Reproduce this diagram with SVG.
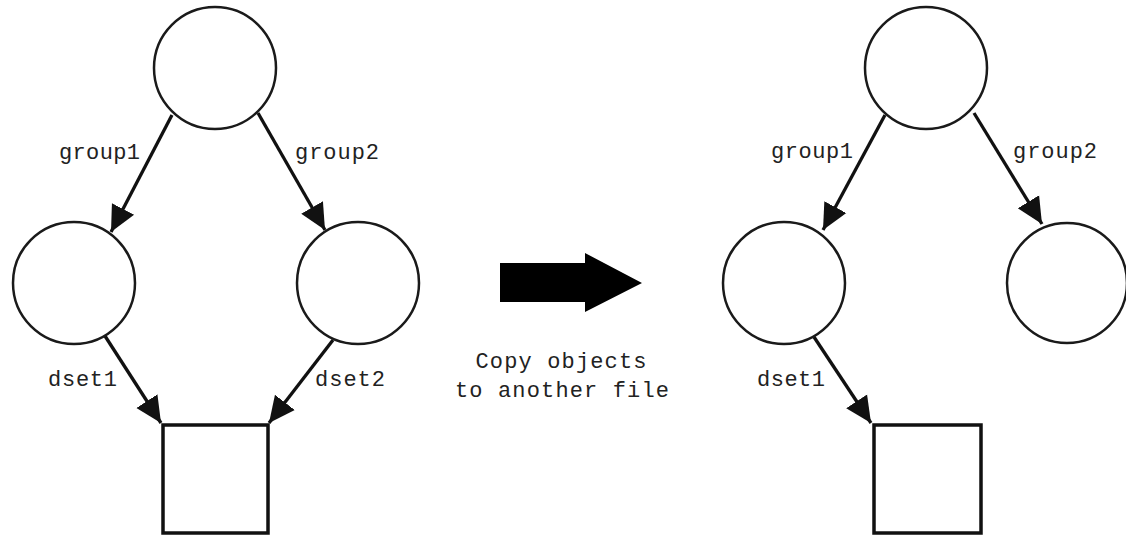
<svg xmlns="http://www.w3.org/2000/svg" width="1126" height="537" viewBox="0 0 1126 537">
<style>
.n{fill:#fff;stroke:#1a1a1a;stroke-width:2.5}
.sq{fill:#fff;stroke:#111;stroke-width:3.5}
.e{stroke:#111;stroke-width:3.3;fill:none;marker-end:url(#ah)}
.t{font-family:"Liberation Mono","Courier New",monospace;font-size:22px;fill:#222}
</style>
<defs>
<marker id="ah" markerUnits="userSpaceOnUse" markerWidth="30" markerHeight="30" viewBox="0 0 30 30" refX="26" refY="15" orient="auto">
<path d="M0,2.5 L26,15 L0,27.5 Z" fill="#111"/>
</marker>
</defs>
<rect width="1126" height="537" fill="#fff"/>
<g id="connectors">
<line class="e" x1="172" y1="115" x2="111" y2="232"/>
<line class="e" x1="258" y1="113" x2="325" y2="230"/>
<line class="e" x1="105" y1="336" x2="161" y2="423"/>
<line class="e" x1="333" y1="340" x2="269" y2="423"/>
<line class="e" x1="885" y1="115" x2="823" y2="230"/>
<line class="e" x1="974" y1="113" x2="1042" y2="224"/>
<line class="e" x1="814" y1="337" x2="871" y2="423"/>
<text class="t" x="59" y="159" textLength="81">group1</text>
<text class="t" x="295" y="159" textLength="84">group2</text>
<text class="t" x="48" y="386" textLength="69">dset1</text>
<text class="t" x="315" y="386" textLength="70">dset2</text>
<text class="t" x="771" y="158" textLength="82">group1</text>
<text class="t" x="1013" y="158" textLength="84">group2</text>
<text class="t" x="757" y="386" textLength="68">dset1</text>
</g>
<g id="L-top"><circle class="n" cx="215" cy="68" r="61"/></g>
<g id="L-g1"><circle class="n" cx="74" cy="283" r="61"/></g>
<g id="L-g2"><circle class="n" cx="358" cy="283" r="61"/></g>
<g id="L-ds"><rect class="sq" x="163" y="425" width="105" height="108"/></g>
<g id="R-top"><circle class="n" cx="926" cy="68" r="61"/></g>
<g id="R-g1"><circle class="n" cx="784" cy="283" r="61"/></g>
<g id="R-g2"><circle class="n" cx="1067" cy="283" r="60"/></g>
<g id="R-ds"><rect class="sq" x="874" y="425" width="107" height="108"/></g>
<g id="big-arrow">
<path d="M500,263 L585,263 L585,253 L642,283 L585,312 L585,302 L500,302 Z" fill="#000"/>
<text class="t" x="561" y="368" text-anchor="middle" textLength="171">Copy objects</text>
<text class="t" x="562" y="397" text-anchor="middle" textLength="214">to another file</text>
</g>
</svg>
